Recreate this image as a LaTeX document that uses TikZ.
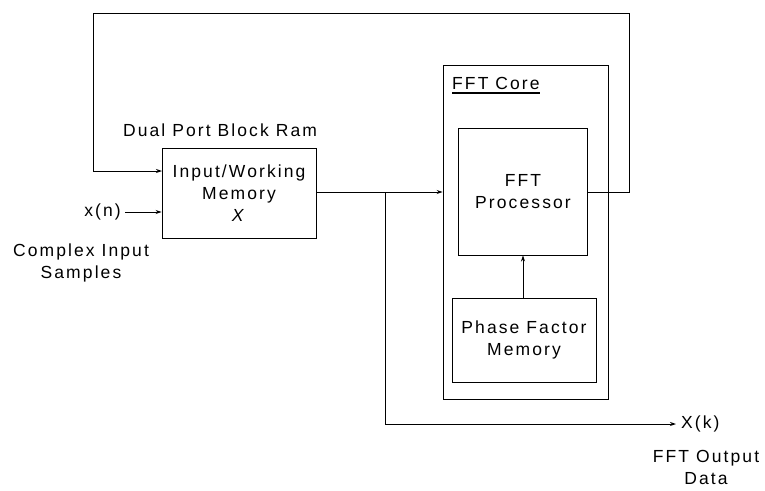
\documentclass[tikz,border=0pt]{standalone}
\usepackage{fontspec}
\setmainfont{Liberation Sans}[LetterSpace=12]
\usepackage{tikz}
\usetikzlibrary{arrows.meta, positioning}

\begin{document}
\begin{tikzpicture}[
  x=1pt, y=-1pt,
  every node/.style={font=\fontsize{17.5}{22}\selectfont, inner sep=0pt},
  block/.style={rectangle,draw,line width=0.9pt,align=center},
  txt/.style={align=center},
  arr/.style={-{Stealth[length=6pt,width=4pt]}, line width=0.9pt}
]
\useasboundingbox (0,0) rectangle (765,490);

% blocks
\node[block,minimum width=154pt,minimum height=90pt] (mem) at (239,193)
  {Input/Working\\Memory\\\textit{X}};
\node[block,minimum width=165pt,minimum height=334pt] (core) at (525.5,232) {};
\node[block,minimum width=129pt,minimum height=127pt] (proc) at (523,191.5)
  {FFT\\Processor};
\node[block,minimum width=144pt,minimum height=84pt] (pfm) at (524,340)
  {Phase Factor\\Memory};

% labels
\node[txt] (ram) at (220,130) {Dual Port Block Ram};
\node[txt,anchor=west] (corelbl) at (452,83) {FFT Core};
\draw[line width=1.8pt] ([yshift=-4pt]corelbl.south west) -- ([yshift=-4pt]corelbl.south east);
\node[txt,anchor=east] (xn) at (121,212) {x(n)};
\node[txt] (cis) at (81,263) {Complex Input\\Samples};
\node[txt,anchor=west] (xk) at (681,424) {X(k)};
\node[txt] (fod) at (706,467) {FFT Output\\Data};

% feedback and data paths
\coordinate (fbR) at (629,13);
\coordinate (fbL) at (93,13);
\coordinate (memin) at (162,171);
\coordinate (jn) at (385,192);
\draw[arr] (proc.east |- jn) -| (fbR) -- (fbL) |- (memin);
\draw[arr] ([xshift=4pt]xn.east) -- (xn -| mem.west);
\draw[arr] (mem.east |- jn) -- (core.west |- jn);
\draw[arr] (jn) |- ([xshift=-5pt]xk.west);
\draw[arr] (pfm.north -| proc.south) -- (proc.south);

\end{tikzpicture}
\end{document}
